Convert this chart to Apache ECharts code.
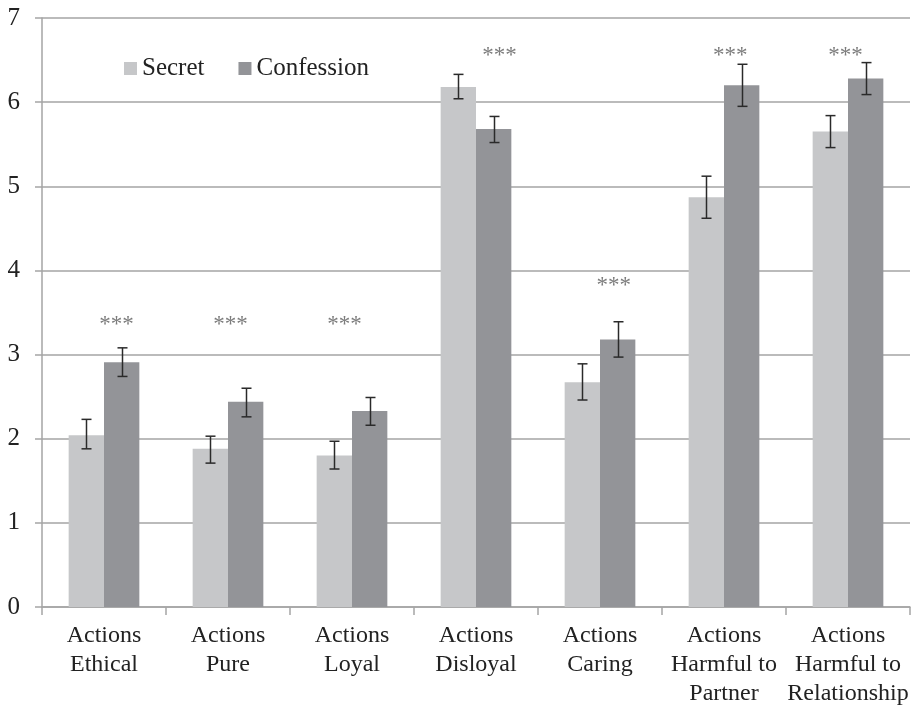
<!DOCTYPE html>
<html>
<head>
<meta charset="utf-8">
<script src="https://cdn.jsdelivr.net/npm/echarts@6/dist/echarts.min.js"></script>
<style>
  html, body { margin: 0; padding: 0; background: #fff; }
  #chart { width: 917px; height: 709px; }
</style>
</head>
<body>
<div id="chart"></div>
<script>
// Mean ratings per action type, with error bar bounds
const categories = ['Actions\nEthical', 'Actions\nPure', 'Actions\nLoyal', 'Actions\nDisloyal',
  'Actions\nCaring', 'Actions\nHarmful to\nPartner', 'Actions\nHarmful to\nRelationship'];
const secretMeans = [2.04, 1.88, 1.80, 6.18, 2.67, 4.87, 5.65];
const secretLow = [1.88, 1.71, 1.64, 6.04, 2.46, 4.62, 5.46];
const secretHigh = [2.23, 2.03, 1.97, 6.33, 2.89, 5.12, 5.84];
const confessionMeans = [2.91, 2.44, 2.33, 5.68, 3.18, 6.20, 6.28];
const confessionLow = [2.74, 2.26, 2.16, 5.52, 2.97, 5.95, 6.09];
const confessionHigh = [3.08, 2.60, 2.49, 5.83, 3.39, 6.45, 6.47];
// Significance markers: position along the category band and height
const starX = [0.6, 1.52, 2.44, 3.69, 4.61, 5.55, 6.48];
const starY = [3.39, 3.39, 3.39, 6.58, 3.85, 6.58, 6.58];
const yTicks = [0, 1, 2, 3, 4, 5, 6, 7];

const CAT_GAP = 0.43;
const FONT = '"Liberation Serif", "Times New Roman", serif';

function errorSeries(name, low, high, side) {
  return {
    type: 'custom',
    name: name + ' error',
    xAxisIndex: 0,
    z: 5,
    silent: true,
    data: low.map((l, i) => [i, l, high[i]]),
    renderItem: function (params, api) {
      const band = api.size([1, 0])[0];
      const barW = band * (1 - CAT_GAP) / 2;
      const lo = api.coord([api.value(0), api.value(1)]);
      const hi = api.coord([api.value(0), api.value(2)]);
      const x = Math.round(lo[0] + side * barW / 2) + 0.5;
      const cap = 5;
      const style = { stroke: '#2a2a2a', lineWidth: 1.5 };
      return {
        type: 'group',
        children: [
          { type: 'line', shape: { x1: x, y1: lo[1], x2: x, y2: hi[1] }, style: style },
          { type: 'line', shape: { x1: x - cap, y1: lo[1], x2: x + cap, y2: lo[1] }, style: style },
          { type: 'line', shape: { x1: x - cap, y1: hi[1], x2: x + cap, y2: hi[1] }, style: style }
        ]
      };
    }
  };
}

const chart = echarts.init(document.getElementById('chart'), null, { renderer: 'canvas' });
chart.setOption({
  animation: false,
  backgroundColor: '#fff',
  textStyle: { fontFamily: FONT },
  grid: { left: 42, right: 7, top: 18, bottom: 102, containLabel: false },
  legend: {
    left: 124, top: 56, padding: 0,
    itemWidth: 13, itemHeight: 13, itemGap: 34,
    icon: 'rect',
    data: ['Secret', 'Confession'],
    textStyle: { fontFamily: FONT, fontSize: 25, color: '#222' }
  },
  xAxis: [{
    type: 'category',
    data: categories,
    axisLine: { lineStyle: { color: '#a5a5a5', width: 1.5 } },
    axisTick: { show: true, length: 8, lineStyle: { color: '#a5a5a5', width: 1.5 } },
    axisLabel: { fontFamily: FONT, fontSize: 24, color: '#222', lineHeight: 29, margin: 14, interval: 0 }
  }, {
    type: 'value', min: 0, max: 7, show: false
  }],
  yAxis: {
    type: 'value', min: 0, max: 7, interval: 1,
    axisLine: { show: true, lineStyle: { color: '#a5a5a5', width: 1.5 } },
    axisTick: { show: true, length: 7, lineStyle: { color: '#a5a5a5', width: 1.5 } },
    splitLine: { lineStyle: { color: '#a5a5a5', width: 1.5 } },
    axisLabel: {
      fontFamily: FONT, fontSize: 25, color: '#222', margin: 22,
      formatter: v => yTicks.includes(v) ? String(v) : ''
    }
  },
  series: [
    {
      name: 'Secret', type: 'bar', data: secretMeans,
      barGap: 0, barCategoryGap: (CAT_GAP * 100) + '%',
      itemStyle: { color: '#c6c7c9' }
    },
    {
      name: 'Confession', type: 'bar', data: confessionMeans,
      barGap: 0, barCategoryGap: (CAT_GAP * 100) + '%',
      itemStyle: { color: '#939498' }
    },
    errorSeries('Secret', secretLow, secretHigh, -1),
    errorSeries('Confession', confessionLow, confessionHigh, 1),
    {
      name: 'sig', type: 'scatter', xAxisIndex: 1, symbolSize: 0, silent: true,
      data: starX.map((x, i) => [x, starY[i]]),
      label: {
        show: true, position: 'inside', formatter: '***', offset: [0, 3],
        fontFamily: FONT, fontSize: 23, color: '#5a5a5a'
      }
    }
  ]
});
</script>
</body>
</html>
